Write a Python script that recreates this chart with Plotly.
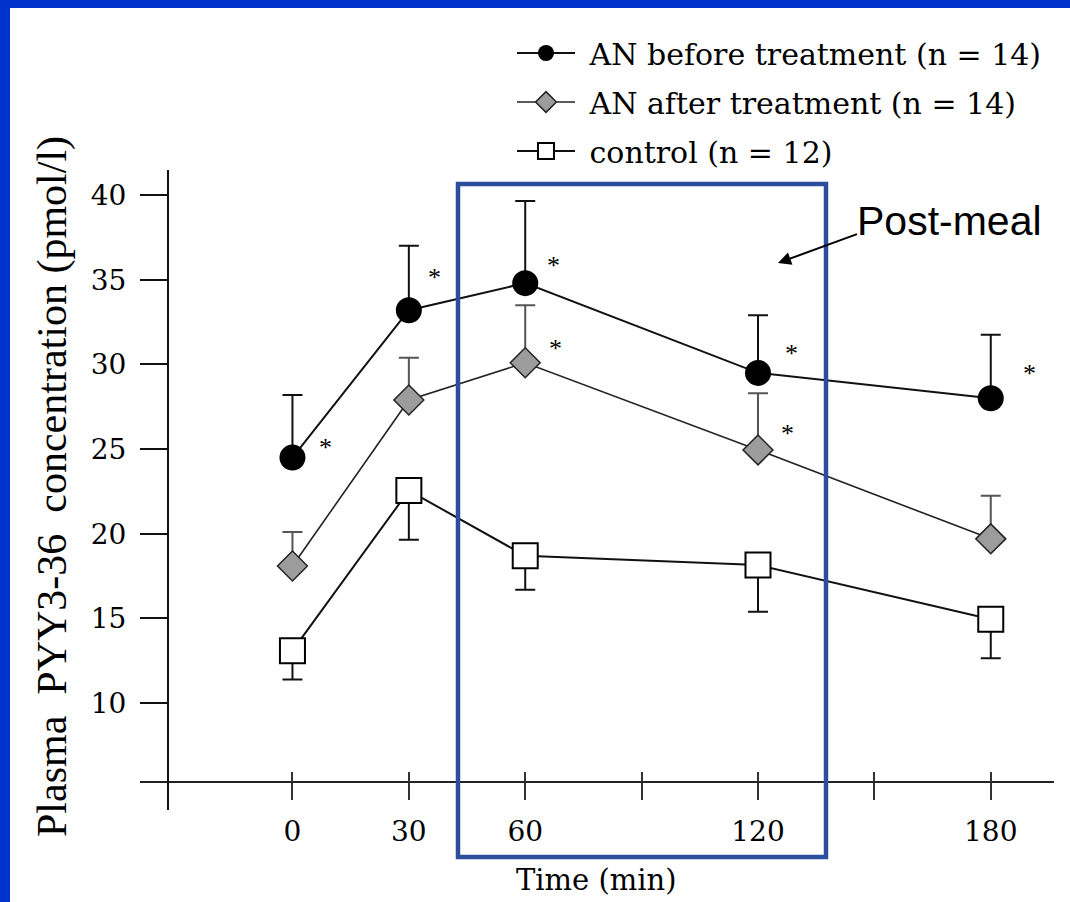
import plotly.graph_objects as go

# ---------------- data ----------------
times = [0, 30, 60, 120, 180]
an_before = [24.5, 33.2, 34.8, 29.5, 28.0]
an_before_err = [3.7, 3.8, 4.85, 3.4, 3.75]
an_after = [18.1, 27.9, 30.1, 24.95, 19.7]
an_after_err = [2.0, 2.5, 3.4, 3.35, 2.55]
control = [13.1, 22.55, 18.7, 18.15, 14.95]
control_err = [1.7, 2.9, 2.0, 2.75, 2.3]
sig_before = [True, True, True, True, True]
sig_after = [False, False, True, True, False]

names = ["AN before treatment (n = 14)", "AN after treatment (n = 14)", "control (n = 12)"]
x_tickvals = [0, 30, 60, 90, 120, 150, 180]
x_ticktext = ["0", "30", "60", "", "120", "", "180"]
y_tickvals = [10, 15, 20, 25, 30, 35, 40]
x_title = "Time (min)"
y_title = "Plasma\u00a0\u00a0PYY3-36\u00a0\u00a0concentration (pmol/l)"
box_label = "Post-meal"

# ---------------- layout helpers ----------------
W, H = 1070, 902
def px(p):
    return p / W
def py(p):
    return 1 - p / H

SERIF = "DejaVu Serif"
SERIF2 = "Liberation Serif"

fig = go.Figure()

fig.add_trace(go.Scatter(
    x=times, y=an_before, name="\u00a0" + names[0], mode="lines+markers",
    line=dict(color="#111111", width=2),
    marker=dict(symbol="circle", size=26, color="black", line=dict(color="black", width=0)),
    error_y=dict(type="data", symmetric=False, array=an_before_err,
                 arrayminus=[0] * len(times), color="#111111", thickness=2, width=10),
    legendgroup="a",
))
fig.add_trace(go.Scatter(
    x=times, y=an_after, name="\u00a0" + names[1], mode="lines+markers",
    line=dict(color="#222222", width=1.6),
    marker=dict(symbol="diamond", size=23, color="#9c9c9c", line=dict(color="#222222", width=1.5)),
    error_y=dict(type="data", symmetric=False, array=an_after_err,
                 arrayminus=[0] * len(times), color="#555555", thickness=2, width=10),
    legendgroup="b",
))
fig.add_trace(go.Scatter(
    x=times, y=control, name="\u00a0" + names[2], mode="lines+markers",
    line=dict(color="#111111", width=2),
    marker=dict(symbol="square", size=25, color="white", line=dict(color="black", width=2)),
    error_y=dict(type="data", symmetric=False, array=[0] * len(times),
                 arrayminus=control_err, color="#111111", thickness=2, width=10),
    legendgroup="c",
))

# significance asterisks (offsets in px from the data point)
before_off = [(33, 13), (26, 36), (28, 21), (33, 22), (39, 28)]
after_off = [(30, 17), (30, 17), (30, 17), (29, 19), (30, 17)]
ast_font = dict(family=SERIF2, size=26, color="black")
for t, v, s, (dx, dy) in zip(times, an_before, sig_before, before_off):
    if s:
        fig.add_annotation(x=t, y=v, xref="x", yref="y", text="*", showarrow=False,
                           xshift=dx, yshift=dy - 3, font=ast_font)
for t, v, s, (dx, dy) in zip(times, an_after, sig_after, after_off):
    if s:
        fig.add_annotation(x=t, y=v, xref="x", yref="y", text="*", showarrow=False,
                           xshift=dx, yshift=dy - 3, font=ast_font)

# axis titles
fig.add_annotation(x=px(52), y=py(487), xref="paper", yref="paper", text=y_title,
                   textangle=-90, showarrow=False, xanchor="center", yanchor="middle",
                   font=dict(family=SERIF2, size=42, color="black"))
fig.add_annotation(x=px(596), y=py(880), xref="paper", yref="paper", text=x_title,
                   showarrow=False, xanchor="center", yanchor="middle",
                   font=dict(family=SERIF, size=29, color="black"))

# Post-meal label and arrow
fig.add_annotation(x=px(949), y=py(221), xref="paper", yref="paper", text=box_label,
                   showarrow=False, xanchor="center", yanchor="middle",
                   font=dict(family="Liberation Sans", size=41, color="black"))
fig.add_annotation(x=px(778), y=py(263), xref="paper", yref="paper", text=" ",
                   showarrow=True, ax=82, ay=-30, arrowhead=2, arrowsize=1.3,
                   arrowwidth=2, arrowcolor="black", standoff=0)

shapes = [
    dict(type="rect", xref="paper", yref="paper", x0=0, x1=px(10), y0=0, y1=1,
         fillcolor="#0033CC", line=dict(width=0), layer="below"),
    dict(type="rect", xref="paper", yref="paper", x0=0, x1=1, y0=py(8), y1=1,
         fillcolor="#0033CC", line=dict(width=0), layer="below"),
    dict(type="rect", xref="paper", yref="paper", x0=px(458), x1=px(826),
         y0=py(857), y1=py(184), line=dict(color="#2A4E9B", width=4.5),
         fillcolor="rgba(0,0,0,0)", layer="above"),
]

axis_font = dict(family=SERIF, size=28, color="black")
fig.update_layout(
    width=W, height=H, autosize=False,
    margin=dict(l=0, r=0, t=0, b=0, pad=0),
    paper_bgcolor="white", plot_bgcolor="rgba(0,0,0,0)",
    shapes=shapes,
    showlegend=True,
    legend=dict(x=px(512), y=py(27), xanchor="left", yanchor="top",
                font=dict(family=SERIF, size=30, color="black"),
                bgcolor="rgba(0,0,0,0)", traceorder="grouped", tracegroupgap=7,
                itemwidth=58),
    xaxis=dict(domain=[px(140), px(1054)], range=[-39.3, 196.3],
               anchor="free", position=py(781.7),
               showline=True, linecolor="#222222", linewidth=2,
               ticks="outside", ticklen=17, tickwidth=2, tickcolor="#333333",
               tickvals=x_tickvals, ticktext=x_ticktext, tickfont=axis_font,
               ticklabelstandoff=8,
               showgrid=False, zeroline=False, fixedrange=True),
    xaxis2=dict(domain=[px(140), px(1054)], range=[-39.3, 196.3], overlaying="x",
                anchor="free", position=py(781.7), side="bottom",
                showline=False, ticks="inside", ticklen=10, tickwidth=2, tickcolor="#333333",
                tickvals=x_tickvals, showticklabels=False,
                showgrid=False, zeroline=False),
    yaxis=dict(domain=[py(810), py(170)], range=[3.69, 41.48],
               anchor="free", position=px(168),
               showline=True, linecolor="#111111", linewidth=2,
               ticks="outside", ticklen=27, tickwidth=2, tickcolor="#111111",
               tickvals=y_tickvals, tickfont=axis_font, ticklabelstandoff=8,
               showgrid=False, zeroline=False),
)

# dummy invisible trace so xaxis2 is drawn
fig.add_trace(go.Scatter(x=[0], y=[10], xaxis="x2", yaxis="y", mode="markers",
                         marker=dict(opacity=0), showlegend=False, hoverinfo="skip"))

fig.write_html("out.html")
